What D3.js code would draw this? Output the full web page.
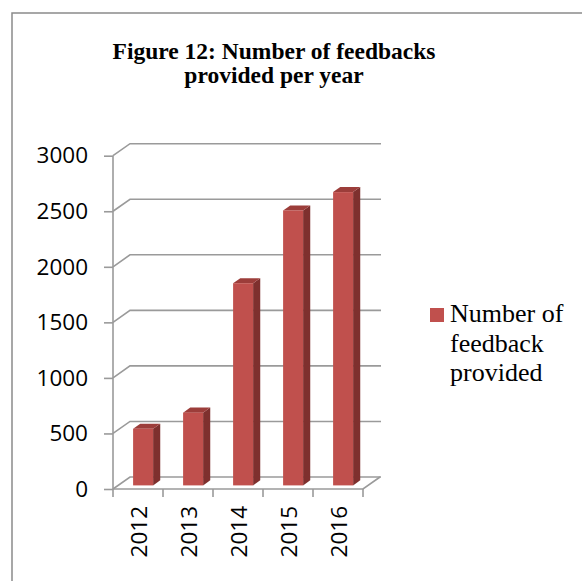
<!DOCTYPE html>
<html><head><meta charset="utf-8">
<script src="https://cdn.jsdelivr.net/npm/d3@7/dist/d3.min.js"></script>
<style>body{margin:0;background:#fff}svg{display:block}</style>
</head><body>
<script>
const titleLines = ["Figure 12: Number of feedbacks", "provided per year"];
const years = ["2012", "2013", "2014", "2015", "2016"];
const feedbacks = [510, 655, 1820, 2475, 2640];
const yTicks = [0, 500, 1000, 1500, 2000, 2500, 3000];
const legendLines = ["Number of", "feedback", "provided"];

const W = 582, H = 581;
const svg = d3.select("body").append("svg").attr("width", W).attr("height", H);

// outer border (extends beyond the right and bottom edges)
svg.append("rect").attr("x", 12).attr("y", 13).attr("width", 600).attr("height", 600)
  .attr("fill", "#fff").attr("stroke", "#8a8a8a").attr("stroke-width", 1.5);

// title
svg.append("g").selectAll("text").data(titleLines).join("text")
  .attr("x", 274).attr("y", (d, i) => 59 + i * 23.5)
  .attr("text-anchor", "middle")
  .attr("font-family", "Liberation Serif, Times New Roman, serif")
  .attr("font-weight", "bold").attr("font-size", 23.5).attr("fill", "#000")
  .text(d => d);

const x = d3.scaleBand().domain(years).range([113, 363]);
const y = d3.scaleLinear().domain([0, 3000]).range([489, 155.7]);
const DX = 17, DY = 12;   // full depth offset of the 3D box
const gridColor = "#9a9a9a";

const g = svg.append("g");
// back wall gridlines with left-wall diagonals
yTicks.forEach(v => {
  g.append("polyline")
    .attr("points", [[113, y(v)], [113 + DX, y(v) - DY], [x.range()[1] + DX + 1, y(v) - DY]].map(p => p.join(",")).join(" "))
    .attr("fill", "none").attr("stroke", gridColor).attr("stroke-width", 1.6);
});
// floor front edge and right diagonal
g.append("polyline")
  .attr("points", [[113, y(0)], [x.range()[1], y(0)], [x.range()[1] + DX, y(0) - DY]].map(p => p.join(",")).join(" "))
  .attr("fill", "none").attr("stroke", gridColor).attr("stroke-width", 1.6);

// left axis
const yAxis = d3.axisLeft(y).tickValues(yTicks).tickSize(9).tickPadding(16).tickFormat(d3.format("d"));
const ya = svg.append("g").attr("transform", "translate(113,0)").call(yAxis);
ya.select(".domain").attr("stroke", gridColor).attr("stroke-width", 1.6).attr("d", `M0,${y(3000)}V${y(0)}`);
ya.selectAll(".tick line").attr("stroke", gridColor).attr("stroke-width", 1.6);
ya.selectAll(".tick text").attr("font-family", "Open Sans, sans-serif").attr("font-size", 22.5).attr("fill", "#000");

// x ticks at band edges
const edges = years.map(d => x(d)).concat([x.range()[1]]);
svg.append("g").selectAll("line").data(edges).join("line")
  .attr("x1", d => d).attr("x2", d => d).attr("y1", y(0)).attr("y2", y(0) + 8)
  .attr("stroke", gridColor).attr("stroke-width", 1.6);

// x labels rotated
svg.append("g").selectAll("text").data(years).join("text")
  .attr("transform", d => `translate(${x(d) + x.bandwidth() / 2 + 1},506) rotate(-90)`)
  .attr("text-anchor", "end").attr("dy", "0.35em")
  .attr("font-family", "Open Sans, sans-serif").attr("font-size", 22.5).attr("fill", "#000")
  .text(d => d);

// 3D bars
const t0 = 0.3, t1 = 0.72;
const bw = x.bandwidth() * 0.4;
const bars = svg.append("g").selectAll("g").data(years.map((d, i) => ({ year: d, v: feedbacks[i] }))).join("g");
bars.each(function (d) {
  const gg = d3.select(this);
  const xl = x(d.year) + (x.bandwidth() - bw) / 2 + DX * t0;
  const xr = xl + bw;
  const yb = y(0) - DY * t0;
  const yt = y(d.v) - DY * t0;
  const ddx = DX * (t1 - t0), ddy = DY * (t1 - t0);
  const pts = a => a.map(p => p.join(",")).join(" ");
  gg.append("polygon").attr("points", pts([[xr, yt], [xr + ddx, yt - ddy], [xr + ddx, yb - ddy], [xr, yb]])).attr("fill", "#7e302e");
  gg.append("polygon").attr("points", pts([[xl, yt], [xl + ddx, yt - ddy], [xr + ddx, yt - ddy], [xr, yt]])).attr("fill", "#9c3d3a");
  gg.append("rect").attr("x", xl).attr("y", yt).attr("width", bw).attr("height", yb - yt).attr("fill", "#c0504d");
});

// legend
svg.append("rect").attr("x", 430).attr("y", 308).attr("width", 14).attr("height", 14).attr("fill", "#c0504d");
svg.append("g").selectAll("text").data(legendLines).join("text")
  .attr("x", 450).attr("y", (d, i) => 322 + i * 29.5)
  .attr("font-family", "Liberation Serif, Times New Roman, serif").attr("font-size", 26).attr("fill", "#000")
  .text(d => d);
</script>
</body></html>
